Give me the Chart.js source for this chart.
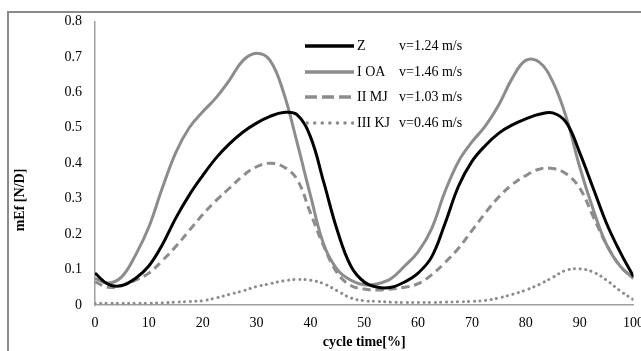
<!DOCTYPE html>
<html>
<head>
<meta charset="utf-8">
<script src="https://cdn.jsdelivr.net/npm/chart.js@4"></script>
<style>
  html, body { margin: 0; padding: 0; background: #fff; overflow: hidden; width: 641px; height: 351px; }
  #frame { position: absolute; left: 7px; top: 11px; width: 700px; height: 400px; border: 2px solid #8a8a8a; box-sizing: border-box; }
  #wrap { position: absolute; left: 0; top: 0; width: 654px; height: 351px; }
  #legend { position: absolute; left: 305px; top: 33px; font-family: "Liberation Serif", serif; font-size: 14px; color: #000; }
  #legend .row { height: 25.7px; display: flex; align-items: center; white-space: nowrap; }
  #legend .name { display: inline-block; width: 42px; margin-left: 3px; }
</style>
</head>
<body>
<div id="frame"></div>
<div id="wrap"><canvas id="chart"></canvas></div>
<div id="legend"></div>
<script>
const cycle = [0, 2.5, 5, 7.5, 10, 12.5, 15, 17.5, 20, 22.5, 25, 27.5, 30, 32.5, 35, 37.5, 40, 42.5, 45, 47.5,
  50, 52.5, 55, 57.5, 60, 62.5, 65, 67.5, 70, 72.5, 75, 77.5, 80, 82.5, 85, 87.5, 90, 92.5, 95, 97.5, 100];

const zVals = [0.09, 0.058, 0.055, 0.075, 0.11, 0.17, 0.245, 0.31, 0.365, 0.415, 0.455, 0.488, 0.513, 0.532, 0.543, 0.537, 0.475, 0.345, 0.21, 0.11,
  0.065, 0.05, 0.05, 0.065, 0.09, 0.135, 0.23, 0.335, 0.405, 0.45, 0.485, 0.508, 0.525, 0.538, 0.542, 0.515, 0.43, 0.33, 0.23, 0.15, 0.08];

const oaVals = [0.075, 0.062, 0.08, 0.14, 0.22, 0.33, 0.43, 0.5, 0.545, 0.585, 0.635, 0.69, 0.71, 0.69, 0.6, 0.46, 0.31, 0.17, 0.1, 0.07,
  0.057, 0.06, 0.075, 0.11, 0.15, 0.215, 0.32, 0.405, 0.46, 0.505, 0.565, 0.64, 0.69, 0.685, 0.63, 0.53, 0.39, 0.27, 0.17, 0.11, 0.075];

const mjVals = [0.065, 0.05, 0.055, 0.07, 0.09, 0.125, 0.165, 0.21, 0.255, 0.295, 0.33, 0.365, 0.39, 0.4, 0.39, 0.355, 0.26, 0.165, 0.09, 0.055,
  0.045, 0.042, 0.045, 0.05, 0.06, 0.085, 0.12, 0.16, 0.21, 0.26, 0.305, 0.34, 0.365, 0.383, 0.385, 0.37, 0.33, 0.25, 0.17, 0.11, 0.075];

const kjVals = [0.005, 0.005, 0.005, 0.005, 0.005, 0.006, 0.008, 0.01, 0.012, 0.02, 0.03, 0.04, 0.052, 0.06, 0.068, 0.072, 0.07, 0.06, 0.04, 0.02,
  0.012, 0.01, 0.008, 0.007, 0.007, 0.007, 0.008, 0.009, 0.01, 0.013, 0.02, 0.03, 0.042, 0.058, 0.078, 0.098, 0.102, 0.093, 0.07, 0.04, 0.015];

const seriesNames = ['Z', 'I OA', 'II MJ', 'III KJ'];
const speeds = ['v=1.24 m/s', 'v=1.46 m/s', 'v=1.03 m/s', 'v=0.46 m/s'];
const yTicks = [0, 0.1, 0.2, 0.3, 0.4, 0.5, 0.6, 0.7, 0.8];
const xTicks = [0, 10, 20, 30, 40, 50, 60, 70, 80, 90, 100];

const gray = '#8c8c8c';
const serif = '"Liberation Serif", "Times New Roman", serif';

function pts(vals) {
  return cycle.map((c, i) => ({ x: c, y: vals[i] }));
}

const styles = [
  { color: '#000', dash: [], cap: 'butt', legendDash: '' },
  { color: gray, dash: [], cap: 'butt', legendDash: '' },
  { color: gray, dash: [8, 5], cap: 'butt', legendDash: '12 5' },
  { color: gray, dash: [0.1, 5.5], cap: 'round', legendDash: '0.1 7.5' }
];
const allVals = [zVals, oaVals, mjVals, kjVals];

// y title is drawn by hand because it sits below the middle of the axis
const yTitlePlugin = {
  id: 'yTitle',
  afterDraw(chart) {
    const ctx = chart.ctx;
    ctx.save();
    ctx.translate(20, 200);
    ctx.rotate(-Math.PI / 2);
    ctx.font = 'bold 14px ' + serif;
    ctx.fillStyle = '#000';
    ctx.textAlign = 'center';
    ctx.textBaseline = 'middle';
    ctx.fillText('mEf [N/D]', 0, 0);
    ctx.restore();
  }
};

const chart = new Chart(document.getElementById('chart'), {
  type: 'line',
  data: {
    datasets: seriesNames.map((name, i) => ({
      label: name,
      data: pts(allVals[i]),
      borderColor: styles[i].color,
      borderWidth: 3,
      borderDash: styles[i].dash,
      borderCapStyle: styles[i].cap,
      pointRadius: 0,
      tension: 0.4,
      fill: false
    }))
  },
  options: {
    responsive: true,
    maintainAspectRatio: false,
    animation: false,
    events: [],
    layout: { padding: { top: 12, left: 0, right: 0, bottom: 0 } },
    plugins: {
      legend: { display: false },
      tooltip: { enabled: false }
    },
    scales: {
      x: {
        type: 'linear',
        min: 0,
        max: 100,
        afterBuildTicks: s => { s.ticks = xTicks.map(v => ({ value: v })); },
        grid: { display: false, drawTicks: false },
        border: { display: true, color: '#a0a0a0', width: 1.5 },
        ticks: { color: '#000', font: { family: serif, size: 14 }, padding: 10, maxRotation: 0 },
        title: { display: true, text: 'cycle time[%]', color: '#000', font: { family: serif, size: 14, weight: 'bold' }, padding: { top: 2, bottom: 0 } },
        afterFit: s => { s.height = 46; }
      },
      y: {
        min: 0,
        max: 0.8,
        afterBuildTicks: s => { s.ticks = yTicks.map(v => ({ value: v })); },
        grid: { display: false, drawTicks: false },
        border: { display: true, color: '#a0a0a0', width: 1.5 },
        ticks: { color: '#000', font: { family: serif, size: 14 }, padding: 13, callback: v => String(v) },
        afterFit: s => { s.width = 95; }
      }
    }
  },
  plugins: [yTitlePlugin]
});

// legend in html so the speed column lines up
const legend = document.getElementById('legend');
seriesNames.forEach((name, i) => {
  const row = document.createElement('div');
  row.className = 'row';
  const st = styles[i];
  row.innerHTML =
    '<svg width="49" height="6"><line x1="' + (st.cap === 'round' ? 2 : 0) + '" y1="3" x2="49" y2="3" stroke="' + st.color +
    '" stroke-width="3.5" stroke-linecap="' + st.cap + '"' + (st.legendDash ? ' stroke-dasharray="' + st.legendDash + '"' : '') + '/></svg>' +
    '<span class="name">' + name + '</span><span>' + speeds[i] + '</span>';
  legend.appendChild(row);
});
</script>
</body>
</html>
